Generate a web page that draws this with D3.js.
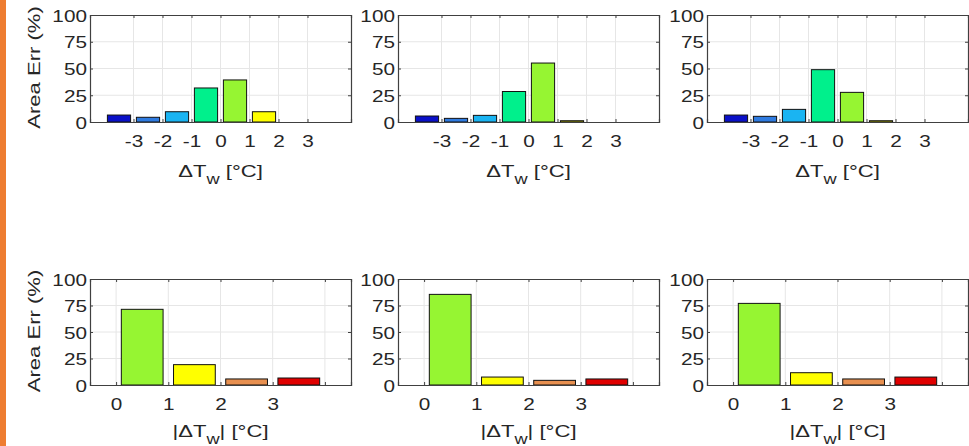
<!DOCTYPE html>
<html><head><meta charset="utf-8">
<script src="https://cdn.jsdelivr.net/npm/d3@7"></script>
<style>body{margin:0;background:#fff}svg{display:block}</style>
</head><body>
<script>
// ---- data ----
const signedBins = [-3.5, -2.5, -1.5, -0.5, 0.5, 1.5, 2.5, 3.5];
const signedColors = ["#0a10c8", "#2f7be0", "#1ab4f2", "#00f08c", "#96f532", "#ffff00", "#e89050", "#e00000"];
const signedTicks = [-3, -2, -1, 0, 1, 2, 3];
const signedA = [6.5, 4.4, 9.6, 31.8, 39.3, 9.6, 0, 0];
const signedB = [5.6, 3.4, 6.2, 28.5, 55.1, 1.2, 0, 0];
const signedC = [6.5, 5.3, 11.8, 48.9, 27.7, 1.2, 0, 0];

const absBins = [0.5, 1.5, 2.5, 3.5];
const absColors = ["#96f532", "#ffff00", "#e89050", "#e00000"];
const absTicks = [0, 1, 2, 3, 4];
const absTickLabels = ["0", "1", "2", "3", ""];
const absA = [71.4, 19.2, 5.7, 6.6];
const absB = [85.5, 7.5, 4.4, 5.7];
const absC = [77.0, 11.6, 5.7, 7.5];

const yTicks = [0, 25, 50, 75, 100];
const yLabel = "Area Err (%)";

// ---- layout ----
const W = 969, H = 446;
const svg = d3.select("body").append("svg").attr("width", W).attr("height", H);
svg.append("rect").attr("x", 0).attr("y", 0).attr("width", 6).attr("height", H).attr("fill", "#ee7d31");

const txt = "#262626", font = "'Liberation Sans', Arial, sans-serif";
const colLeft = [90, 398, 707];
const pw = 261;
const rows = [
  {top: 15, bottom: 122, domain: [-4.5, 4.5], bins: signedBins, colors: signedColors, ticks: signedTicks, tickLabels: signedTicks.map(String), data: [signedA, signedB, signedC], abs: false, labOff: 55},
  {top: 279, bottom: 385, domain: [-0.5, 4.5], bins: absBins, colors: absColors, ticks: absTicks, tickLabels: absTickLabels, data: [absA, absB, absC], abs: true, labOff: 52}
];

rows.forEach(row => {
  row.data.forEach((vals, ci) => {
    const x0 = colLeft[ci];
    const x = d3.scaleLinear().domain(row.domain).range([x0, x0 + pw]);
    const y = d3.scaleLinear().domain([0, 100]).range([row.bottom, row.top]);
    const g = svg.append("g");
    // grid
    g.selectAll(".gx").data(row.ticks).join("line")
      .attr("x1", d => x(d)).attr("x2", d => x(d)).attr("y1", row.top).attr("y2", row.bottom)
      .attr("stroke", "#e6e6e6").attr("stroke-width", 1);
    g.selectAll(".gy").data(yTicks.slice(1, -1)).join("line")
      .attr("x1", x0).attr("x2", x0 + pw).attr("y1", d => y(d)).attr("y2", d => y(d))
      .attr("stroke", "#e6e6e6").attr("stroke-width", 1);
    // bars
    const bw = (x(1) - x(0)) * 0.8;
    g.selectAll(".bar").data(vals.map((v, i) => ({v, c: row.bins[i], col: row.colors[i]})).filter(d => d.v > 0)).join("rect")
      .attr("x", d => x(d.c) - bw / 2).attr("width", bw)
      .attr("y", d => y(d.v)).attr("height", d => y(0) - y(d.v))
      .attr("fill", d => d.col).attr("stroke", "#111").attr("stroke-width", 1);
    // axes (inward ticks)
    const ax = d3.axisBottom(x).tickValues(row.ticks).tickSize(-3).tickPadding(13).tickFormat((d, i) => row.tickLabels[i]);
    const gx = g.append("g").attr("transform", `translate(0,${row.bottom})`).call(ax);
    const axT = d3.axisTop(x).tickValues(row.ticks).tickSize(-3).tickFormat("");
    const gxt = g.append("g").attr("transform", `translate(0,${row.top})`).call(axT);
    const ay = d3.axisLeft(y).tickValues(yTicks).tickSize(-3).tickPadding(2.5);
    const gy = g.append("g").attr("transform", `translate(${x0},0)`).call(ay);
    const ayR = d3.axisRight(y).tickValues(yTicks).tickSize(-3).tickFormat("");
    const gyr = g.append("g").attr("transform", `translate(${x0 + pw},0)`).call(ayR);
    [gx, gxt, gy, gyr].forEach(a => {
      a.select(".domain").attr("stroke", "#404040").attr("stroke-width", 1.2);
      a.selectAll(".tick line").attr("stroke", "#404040");
      a.selectAll("text").attr("fill", txt).style("font-family", font).style("font-size", "17px")
        .attr("transform", "scale(1.22,1)");
    });
    gx.selectAll(".tick text").attr("dy", "0.71em");
    gy.selectAll(".tick text").attr("dy", "0.36em");
    // x label
    const lab = g.append("text")
      .attr("transform", `translate(${x0 + pw / 2},${row.bottom + row.labOff}) scale(1.3,1)`)
      .attr("text-anchor", "middle").attr("fill", txt).style("font-family", font).style("font-size", "17px");
    lab.append("tspan").text((row.abs ? "|" : "") + "\u0394T");
    lab.append("tspan").text("w").attr("dy", 7).style("font-size", "14px");
    lab.append("tspan").text((row.abs ? "| " : " ") + "[\u00B0C]").attr("dy", -7);
    // y label
    if (ci === 0) {
      const cy = (row.top + row.bottom) / 2 - 1;
      g.append("text").attr("transform", `translate(40,${cy}) rotate(-90) scale(1.3,1)`)
        .attr("text-anchor", "middle").attr("fill", txt).style("font-family", font).style("font-size", "17px")
        .text(yLabel);
    }
  });
});
</script>
</body></html>
